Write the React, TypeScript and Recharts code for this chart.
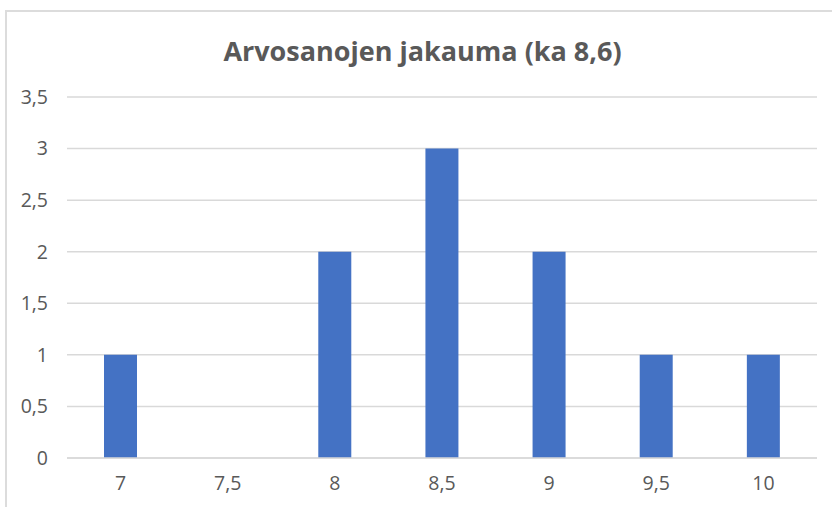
import { Bar, BarChart, CartesianGrid, XAxis, YAxis } from "recharts"

const grades = ["7", "7,5", "8", "8,5", "9", "9,5", "10"]
const counts = [1, 0, 2, 3, 2, 1, 1]
const yTicks = [0, 0.5, 1, 1.5, 2, 2.5, 3, 3.5]

const data = grades.map((grade, i) => ({ grade, count: counts[i] }))

const fmt = (v: number) => String(v).replace(".", ",")

const tickStyle = { fill: "#595959", fontSize: 19.5, fontFamily: "'Open Sans', sans-serif" }

export default function App() {
  return (
    <div
      style={{
        position: "absolute",
        left: 0,
        top: 0,
        width: 832,
        height: 507,
        overflow: "hidden",
        background: "#fff",
      }}
    >
      {/* chart frame, cut off at right and bottom like the screenshot */}
      <div
        style={{
          position: "absolute",
          left: 5,
          top: 10,
          width: 860,
          height: 530,
          border: "2px solid #dcdcdc",
          boxSizing: "border-box",
        }}
      />
      <div
        style={{
          position: "absolute",
          left: 0,
          top: 32,
          width: 845,
          textAlign: "center",
          color: "#595959",
          fontSize: 27,
          fontWeight: 700,
          fontFamily: "'Open Sans', sans-serif",
        }}
      >
        Arvosanojen jakauma (ka 8,6)
      </div>
      <BarChart
        width={832}
        height={507}
        data={data}
        margin={{ top: 97, right: 15, left: 7, bottom: 19 }}
        style={{ position: "absolute", left: 0, top: 0, fontFamily: "'Open Sans', sans-serif" }}
      >
        <CartesianGrid vertical={false} stroke="#d9d9d9" strokeWidth={1.5} />
        <XAxis
          dataKey="grade"
          height={30}
          fontSize={19.5}
          axisLine={{ stroke: "#d9d9d9", strokeWidth: 1.5 }}
          tickLine={false}
          tickMargin={12}
          tick={tickStyle}
        />
        <YAxis
          width={60}
          fontSize={19.5}
          domain={[0, 3.5]}
          ticks={yTicks}
          tickFormatter={fmt}
          axisLine={false}
          tickLine={false}
          tickMargin={13}
          tick={tickStyle}
        />
        <Bar dataKey="count" fill="#4472c4" barSize={33} isAnimationActive={false} />
      </BarChart>
    </div>
  )
}
